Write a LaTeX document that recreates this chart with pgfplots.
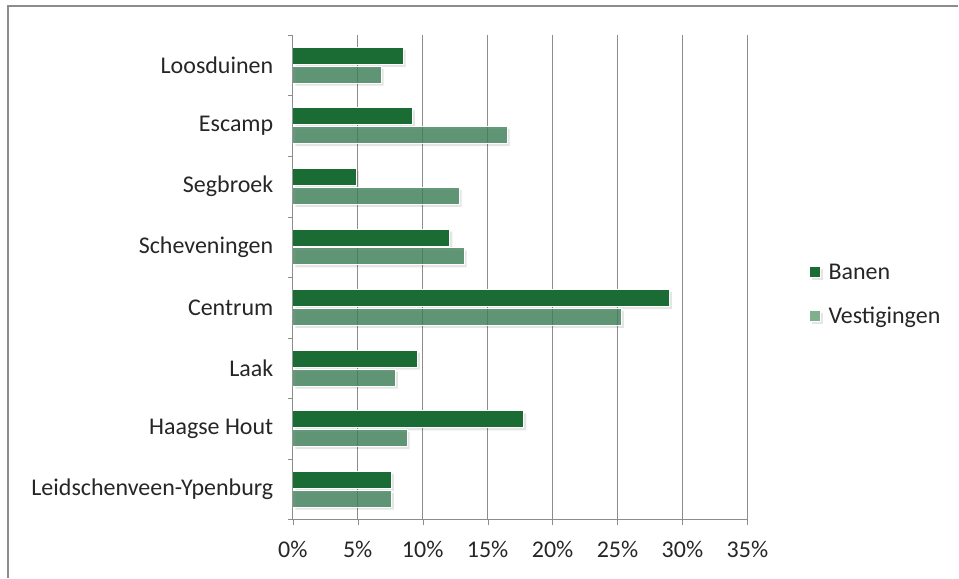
\documentclass[border=0pt]{standalone}
\usepackage{pgfplots}
\pgfplotsset{compat=1.18}
\usepackage{fontspec}
\setmainfont{Carlito}
\definecolor{banen}{HTML}{1B6B35}
\definecolor{vest}{HTML}{3E8058}
\definecolor{vestleg}{HTML}{7FAF8C}
\definecolor{gridc}{HTML}{8C8C8C}
\definecolor{txt}{HTML}{262626}

\begin{document}
\begin{tikzpicture}[x=1pt,y=1pt]
% canvas and frame (left and top edges only, as in the cropped original)
\path (0,0) rectangle (959,578);
\draw[gridc, line width=1.5pt] (8,0) -- (8,572) -- (959,572);

\begin{axis}[
    at={(293pt,58pt)}, anchor=south west,
    scale only axis,
    width=455pt, height=485pt,
    xmin=0, xmax=35, ymin=-0.5, ymax=7.5,
    xtick={0,5,...,35},
    xticklabel={\pgfmathprintnumber{\tick}\%},
    /pgf/number format/assume math mode=true,
    ytick={0,...,7},
    yticklabels={Leidschenveen-Ypenburg,Haagse Hout,Laak,Centrum,Scheveningen,Segbroek,Escamp,Loosduinen},
    minor ytick={-0.5,0.5,...,7.5},
    major tick length=5pt,
    minor tick length=5pt,
    major y tick style={draw=none},
    tick style={draw=gridc},
    tick align=outside,
    axis lines*=left,
    axis line style={draw=gridc, line width=0.8pt},
    xmajorgrids, grid style={gridc, line width=0.8pt},
    ticklabel style={font=\fontsize{24}{28}\selectfont, text=txt},
    yticklabel style={xshift=-11pt},
    xticklabel style={yshift=-13pt},
    xbar, bar width=0.28,
    legend style={at={(1.134,0.465)}, anchor=west, draw=none, fill=none,
        font=\fontsize{24}{28}\selectfont, text=txt, row sep=22pt,
        column sep=6pt, inner sep=0pt},
    legend cell align=left,
    legend image code/.code={\fill[#1] (0pt,-5.5pt) rectangle (11pt,5.5pt);},
]
\addplot[fill=banen, draw=white, line width=1pt, bar shift=0.155,
    preaction={fill=black, fill opacity=0.10, draw=none,
        transform canvas={xshift=2.5pt,yshift=-2.5pt}},
    legend image post style={fill=banen}] coordinates {
(8.5,7) (9.2,6) (4.9,5) (12.1,4) (29.0,3) (9.6,2) (17.8,1) (7.6,0)
};
\addlegendentry{Banen}
\addplot[fill=vest, fill opacity=0.8, draw=white, line width=1pt, bar shift=-0.155,
    preaction={fill=black, fill opacity=0.10, draw=none,
        transform canvas={xshift=2.5pt,yshift=-2.5pt}},
    legend image post style={fill=vestleg, fill opacity=1}] coordinates {
(6.8,7) (16.5,6) (12.8,5) (13.2,4) (25.3,3) (7.9,2) (8.8,1) (7.6,0)
};
\addlegendentry{Vestigingen}
\end{axis}
\end{tikzpicture}
\end{document}
